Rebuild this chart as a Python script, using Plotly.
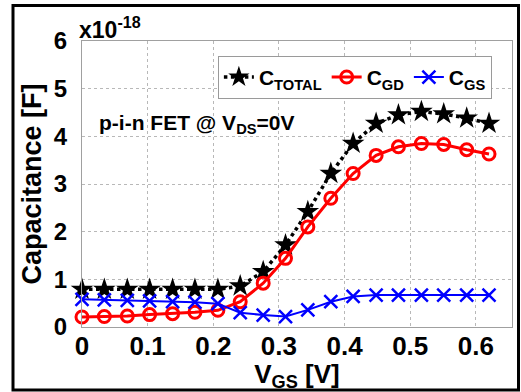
import plotly.graph_objects as go

# Gate voltage V_GS [V]
vgs = [0.0, 0.034, 0.069, 0.103, 0.138, 0.172, 0.207, 0.241, 0.276, 0.310,
       0.344, 0.379, 0.413, 0.448, 0.482, 0.517, 0.551, 0.586, 0.620]
# Capacitances in units of 1e-18 F
c_total = [0.79, 0.79, 0.79, 0.79, 0.79, 0.79, 0.79, 0.86, 1.16, 1.72,
           2.42, 3.22, 3.85, 4.27, 4.45, 4.52, 4.47, 4.38, 4.27]
c_gd = [0.21, 0.22, 0.23, 0.26, 0.28, 0.31, 0.35, 0.53, 0.92, 1.44,
        2.10, 2.70, 3.22, 3.60, 3.78, 3.85, 3.83, 3.72, 3.63]
c_gs = [0.58, 0.57, 0.56, 0.55, 0.53, 0.52, 0.49, 0.30, 0.25, 0.22,
        0.36, 0.53, 0.64, 0.67, 0.67, 0.67, 0.67, 0.67, 0.67]

x_ticks = [0, 0.1, 0.2, 0.3, 0.4, 0.5, 0.6]
x_ticklabels = ["0", "0.1", "0.2", "0.3", "0.4", "0.5", "0.6"]
y_ticks = [0, 1, 2, 3, 4, 5, 6]
y_ticklabels = ["0", "1", "2", "3", "4", "5", "6"]

FONT = "Liberation Sans, Arial, Helvetica, sans-serif"

fig = go.Figure()
fig.add_trace(go.Scatter(
    x=vgs, y=c_total, name="C<sub>TOTAL</sub>", mode="lines+markers",
    line=dict(color="black", width=3.5, dash="dot"),
    marker=dict(symbol="star", size=17, color="black"),
    cliponaxis=False))
fig.add_trace(go.Scatter(
    x=vgs, y=c_gd, name="C<sub>GD</sub>", mode="lines+markers",
    line=dict(color="#ff0000", width=3),
    marker=dict(symbol="circle-open", size=12, color="#ff0000",
                line=dict(width=3, color="#ff0000")),
    cliponaxis=False))
fig.add_trace(go.Scatter(
    x=vgs, y=c_gs, name="C<sub>GS</sub>", mode="lines+markers",
    line=dict(color="#0000ff", width=2),
    marker=dict(symbol="x-thin-open", size=13, color="#0000ff",
                line=dict(width=2.5, color="#0000ff")),
    cliponaxis=False))

fig.update_layout(
    width=521, height=392,
    margin=dict(l=82, r=9, t=41, b=65),
    paper_bgcolor="white", plot_bgcolor="white",
    font=dict(family=FONT, color="black", weight="bold"),
    showlegend=True,
    legend=dict(orientation="h", x=0.316, y=0.948, xanchor="left", yanchor="top",
                bordercolor="#9a9a9a", borderwidth=1, bgcolor="white",
                font=dict(family=FONT, size=21, color="black", weight="bold"),
                itemwidth=30, tracegroupgap=0),
    xaxis=dict(range=[0, 0.655], tickvals=x_ticks, ticktext=x_ticklabels,
               showgrid=True, gridcolor="#b8b8b8", griddash="dot", gridwidth=1,
               showline=True, linecolor="#a0a0a0", linewidth=1, mirror=True,
               zeroline=False, ticks="", ticklabelstandoff=-4,
               tickfont=dict(family=FONT, size=26, color="black", weight="bold"),
               title=dict(text="V<sub>GS</sub> [V]", standoff=0,
                          font=dict(family=FONT, size=26, color="black", weight="bold"))),
    yaxis=dict(range=[0, 6], tickvals=y_ticks, ticktext=y_ticklabels,
               showgrid=True, gridcolor="#b8b8b8", griddash="dot", gridwidth=1,
               showline=True, linecolor="#a0a0a0", linewidth=1, mirror=True,
               zeroline=False, ticks="", ticklabelstandoff=9,
               tickfont=dict(family=FONT, size=24, color="black", weight="bold"),
               title=dict(text="Capacitance [F]", standoff=4,
                          font=dict(family=FONT, size=27, color="black", weight="bold"))),
    annotations=[
        dict(text="x10<sup>-18</sup>", xref="paper", yref="paper", x=-0.012, y=0.985,
             xanchor="left", yanchor="bottom", showarrow=False,
             font=dict(family=FONT, size=23, color="black", weight="bold")),
        dict(text="p-i-n FET @ V<sub>DS</sub>=0V", xref="paper", yref="paper",
             x=0.035, y=0.71, xanchor="left", yanchor="middle", showarrow=False,
             font=dict(family=FONT, size=21, color="black", weight="bold")),
    ],
    shapes=[
        dict(type="rect", xref="paper", yref="paper",
             x0=(13 - 82) / 430, x1=(518.5 - 82) / 430,
             y0=(327 - 390) / 286, y1=(327 - 5.5) / 286,
             line=dict(color="black", width=3), fillcolor="rgba(0,0,0,0)", layer="above"),
    ],
)

fig.write_html("out.html")
